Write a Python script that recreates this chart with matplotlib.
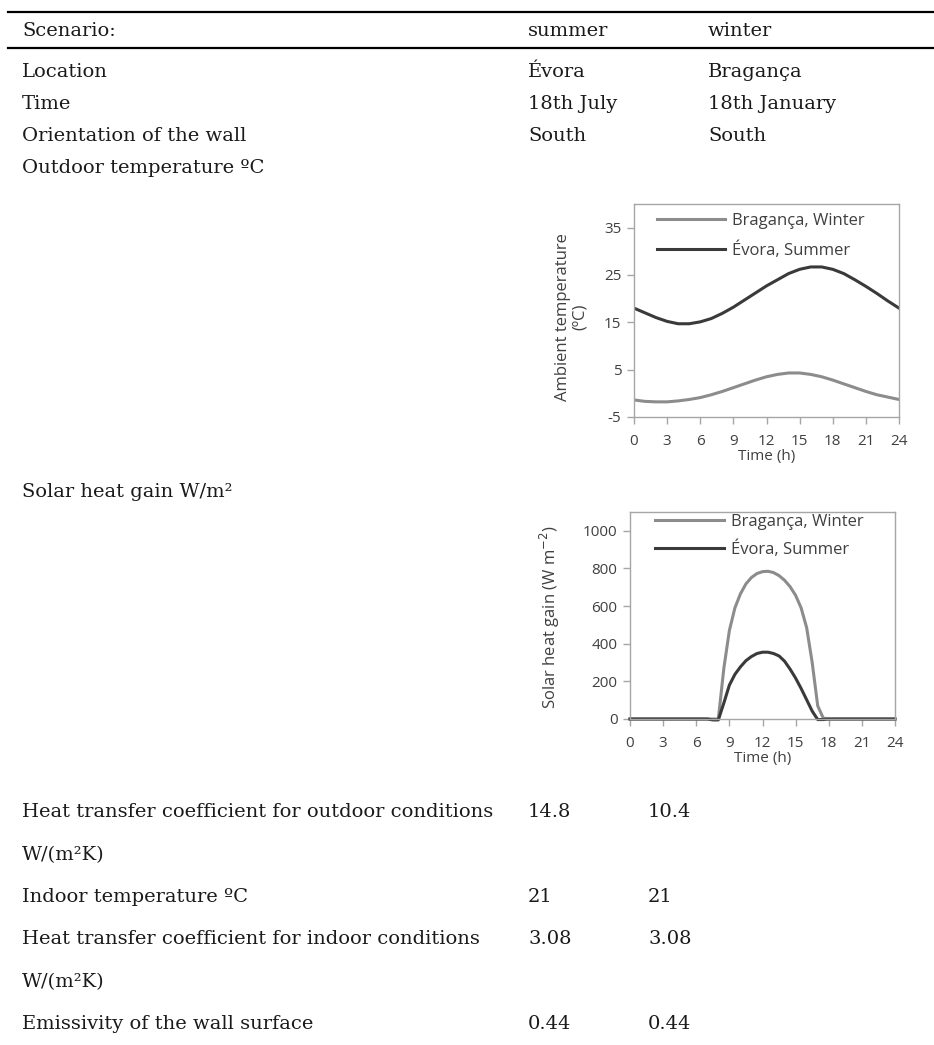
"""
Table of boundary conditions with the two embedded daily profiles
(ambient temperature and solar heat gain).
"""

import matplotlib
matplotlib.use("Agg")
import matplotlib.pyplot as plt
from matplotlib.lines import Line2D

plt.rcParams["axes.unicode_minus"] = False

W, H = 934, 1045

# ---- table content ----
header = ["Scenario:", "summer", "winter"]
top_rows = [
    ["Location", "Évora", "Bragança"],
    ["Time", "18th July", "18th January"],
    ["Orientation of the wall", "South", "South"],
]
label_outdoor = "Outdoor temperature ºC"
label_solar = "Solar heat gain W/m²"
bottom_rows = [
    ["Heat transfer coefficient for outdoor conditions", "14.8", "10.4"],
    ["W/(m²K)", "", ""],
    ["Indoor temperature ºC", "21", "21"],
    ["Heat transfer coefficient for indoor conditions", "3.08", "3.08"],
    ["W/(m²K)", "", ""],
    ["Emissivity of the wall surface", "0.44", "0.44"],
]

# ---- chart data ----
hours = list(range(25))
temp_evora = [18.0, 17.0, 16.0, 15.2, 14.7, 14.7, 15.1, 15.8, 16.9, 18.2, 19.7, 21.2,
              22.7, 24.0, 25.3, 26.2, 26.7, 26.7, 26.2, 25.3, 24.0, 22.6, 21.1, 19.5, 18.0]
temp_braganca = [-1.4, -1.7, -1.8, -1.8, -1.6, -1.3, -0.9, -0.3, 0.4, 1.2, 2.0, 2.8,
                 3.5, 4.0, 4.3, 4.3, 4.0, 3.5, 2.8, 2.0, 1.2, 0.4, -0.3, -0.8, -1.3]

half_hours = [h / 2 for h in range(49)]
solar_braganca = [0] * 16 + [0, 270, 470, 590, 665, 718, 752, 773, 783, 785, 778, 762,
                             737, 703, 657, 590, 485, 300, 70, 5, 0] + [0] * 12
solar_evora = [0] * 15 + [-5, -5, 85, 180, 237, 277, 310, 332, 348, 355, 355, 348, 335,
                          307, 265, 217, 162, 102, 42, -3, -3, 0] + [0] * 12

series_names = ["Bragança, Winter", "Évora, Summer"]
series_colors = ["#8c8c8c", "#3a3a3a"]

x_ticks = [0, 3, 6, 9, 12, 15, 18, 21, 24]


def fx(px):
    return px / W


def fy(py):
    return 1 - py / H


fig = plt.figure(figsize=(W / 100, H / 100), dpi=100)

serif = dict(family="DejaVu Serif", fontsize=14, color="#1a1a1a", va="center")

# rules
for y in (12, 48):
    fig.add_artist(Line2D([fx(8), 1.0], [fy(y), fy(y)], color="black", lw=1.6))

col_x = [22, 528, 708]
for x, t in zip(col_x, header):
    fig.text(fx(x), fy(31), t, **serif)

for y, row in zip([72, 104, 136], top_rows):
    for x, t in zip(col_x, row):
        fig.text(fx(x), fy(y), t, **serif)

fig.text(fx(22), fy(168), label_outdoor, **serif)
fig.text(fx(22), fy(492), label_solar, **serif)

low_x = [22, 528, 648]
for y, row in zip([812, 855, 897, 939, 982, 1024], bottom_rows):
    for x, t in zip(low_x, row):
        if t:
            fig.text(fx(x), fy(y), t, **serif)

sans = "Open Sans"
grey_txt = "#404040"


def style_axes(ax):
    for s in ax.spines.values():
        s.set_color("#a6a6a6")
        s.set_linewidth(1.0)
    ax.tick_params(direction="out", length=5, width=1, color="#a6a6a6",
                   labelsize=11, labelcolor=grey_txt)
    ax.tick_params(axis="x", pad=7)
    ax.tick_params(axis="y", pad=4)
    for lbl in ax.get_xticklabels() + ax.get_yticklabels():
        lbl.set_family(sans)


legend_kw = dict(loc="upper left", frameon=False, borderpad=0, borderaxespad=0,
                 handlelength=4.1, handletextpad=0.45,
                 prop={"family": sans, "size": 12}, labelcolor=grey_txt)

# ---- ambient temperature ----
ax1 = fig.add_axes([fx(634), fy(417), (899 - 634) / W, (417 - 204) / H])
ax1.plot(hours, temp_braganca, color=series_colors[0], lw=2.2, label=series_names[0])
ax1.plot(hours, temp_evora, color=series_colors[1], lw=2.2, label=series_names[1])
ax1.set_xlim(0, 24)
ax1.set_ylim(-5, 40)
ax1.set_xticks(x_ticks)
ax1.set_yticks([-5, 5, 15, 25, 35])
style_axes(ax1)
ax1.set_xlabel("Time (h)", fontsize=11, color=grey_txt, family=sans, labelpad=0)
ax1.set_ylabel("Ambient temperature\n(ºC)", fontsize=12, color=grey_txt,
               family=sans, linespacing=1.05)
ax1.yaxis.set_label_coords(-0.175, 0.47)
ax1.legend(bbox_to_anchor=(0.085, 0.96), labelspacing=0.75, **legend_kw)

# ---- solar heat gain ----
ax2 = fig.add_axes([fx(630), fy(719), (895 - 630) / W, (719 - 512) / H])
ax2.plot(half_hours, solar_braganca, color=series_colors[0], lw=2.2,
         label=series_names[0], clip_on=False)
ax2.plot(half_hours, solar_evora, color=series_colors[1], lw=2.2,
         label=series_names[1], clip_on=False)
ax2.set_xlim(0, 24)
ax2.set_ylim(0, 1100)
ax2.set_xticks(x_ticks)
ax2.set_yticks([0, 200, 400, 600, 800, 1000])
style_axes(ax2)
ax2.set_xlabel("Time (h)", fontsize=11, color=grey_txt, family=sans, labelpad=0)
ax2.set_ylabel("Solar heat gain (W m$^{-2}$)", fontsize=12, color=grey_txt,
               family=sans)
ax2.yaxis.set_label_coords(-0.255, 0.49)
ax2.legend(bbox_to_anchor=(0.095, 0.99), labelspacing=0.6, **legend_kw)

fig.savefig("out.png", dpi=100)
